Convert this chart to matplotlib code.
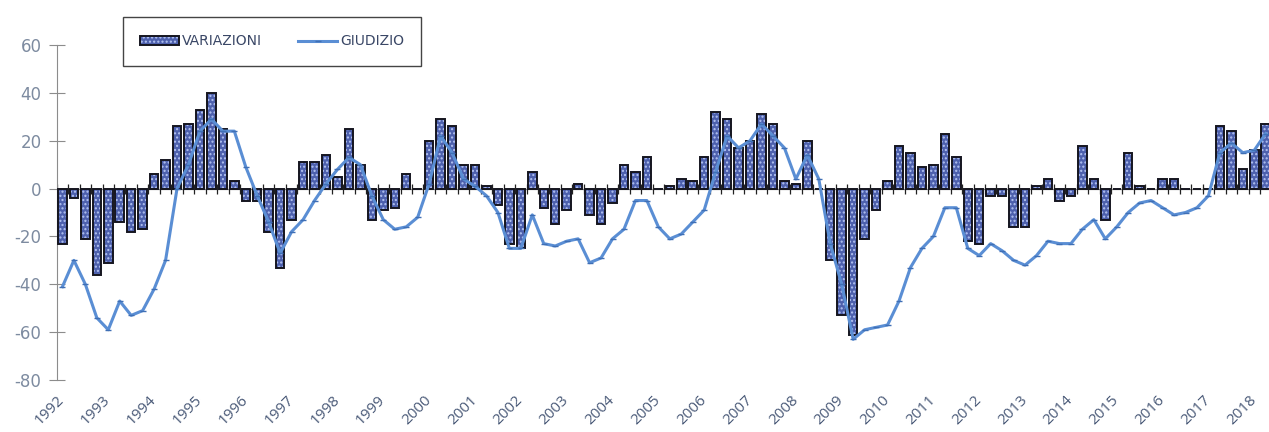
import numpy as np
import matplotlib.pyplot as plt

plt.rcParams['axes.unicode_minus'] = False

# quarterly series, 1992Q1 .. 2018Q2
years = [str(y) for y in range(1992, 2019)]

variazioni = [
    -23, -4, -21, -36, -31, -14, -18, -17,
    6, 12, 26, 27, 33, 40, 25, 3,
    -5, -5, -18, -33, -13, 11, 11, 14,
    5, 25, 10, -13, -9, -8, 6, 0,
    20, 29, 26, 10, 10, 1, -7, -23,
    -25, 7, -8, -15, -9, 2, -11, -15,
    -6, 10, 7, 13, 0, 1, 4, 3,
    13, 32, 29, 17, 20, 31, 27, 3,
    2, 20, 0, -30, -53, -61, -21, -9,
    3, 18, 15, 9, 10, 23, 13, -22,
    -23, -3, -3, -16, -16, 1, 4, -5,
    -3, 18, 4, -13, 0, 15, 1, 0,
    4, 4, 0, 0, 0, 26, 24, 8,
    16, 27,
]

giudizio = [
    -41, -30, -40, -54, -59, -47, -53, -51,
    -42, -30, 0, 10, 24, 29, 24, 24,
    9, -3, -14, -27, -18, -13, -5, 2,
    8, 13, 10, -3, -13, -17, -16, -12,
    2, 22, 15, 4, 1, -3, -10, -25,
    -25, -11, -23, -24, -22, -21, -31, -29,
    -21, -17, -5, -5, -16, -21, -19, -14,
    -9, 7, 22, 17, 20, 27, 22, 17,
    4, 14, 4, -23, -40, -63, -59, -58,
    -57, -47, -33, -25, -20, -8, -8, -25,
    -28, -23, -26, -30, -32, -28, -22, -23,
    -23, -17, -13, -21, -16, -10, -6, -5,
    -8, -11, -10, -8, -3, 15, 19, 15,
    16, 23,
]

n = len(variazioni)
x = np.arange(n)

fig = plt.figure(figsize=(12.69, 4.32), dpi=100)
ax = fig.add_axes([56.7 / 1269, 1 - 380 / 432, 1 - 56.7 / 1269, 335 / 432])

# bars: hatched blue fill, then dark outline on top
b1 = ax.bar(x, variazioni, width=0.74, color='#4d60ad', hatch='....',
            edgecolor='#b3c3f2', linewidth=0, zorder=2)
b2 = ax.bar(x, variazioni, width=0.74, color='none',
            edgecolor='#15151f', linewidth=1.4, zorder=3)

line, = ax.plot(x, giudizio, color='#5a8ed4', lw=2.2, marker='_', ms=4,
                mew=1, mec='#3f6fb5', zorder=4)

# category axis at zero with tick marks between categories
ax.axhline(0, color='#8a8a8a', lw=0.9, zorder=1)
ax.vlines(np.arange(n + 1) - 0.5, -2.1, 2.1, color='#222222', lw=0.9, zorder=1)

ax.set_ylim(-80, 60)
ax.set_xlim(-0.5, -0.5 + (1269 - 56.7) / 11.46)
ax.set_yticks(np.arange(-80, 61, 20))

for s in ['top', 'right', 'bottom']:
    ax.spines[s].set_visible(False)
ax.spines['left'].set_color('#8c8c8c')
ax.tick_params(axis='y', direction='inout', length=12, color='#8c8c8c',
               labelcolor='#7d8ba0', labelsize=12, pad=5)
for lab in ax.get_yticklabels():
    lab.set_family('DejaVu Sans')

ax.set_xticks(x[::4])
ax.set_xticklabels(years, rotation=45, ha='right', va='center',
                   rotation_mode='anchor', fontsize=11, color='#4a5a78',
                   family='Open Sans')
ax.tick_params(axis='x', length=0, pad=13)

leg = ax.legend([(b1, b2), line], ['VARIAZIONI', 'GIUDIZIO'],
                loc='upper left', bbox_to_anchor=(123 / 1269, 1 - 17 / 432),
                bbox_transform=fig.transFigure, ncol=2, frameon=True,
                fancybox=False, edgecolor='#444444', framealpha=1,
                borderpad=1.25, borderaxespad=0, handlelength=2.8,
                handletextpad=0.2, columnspacing=2.6, fontsize=10,
                labelcolor='#3a4766')
leg.get_frame().set_linewidth(1.0)

fig.savefig('out.png', dpi=100)
